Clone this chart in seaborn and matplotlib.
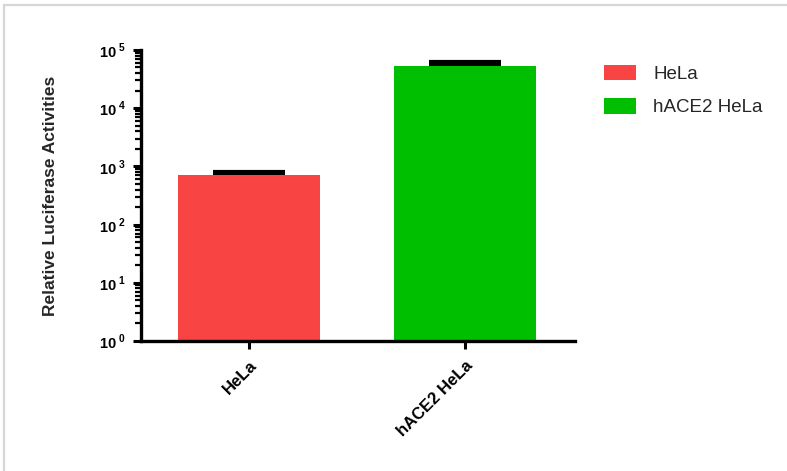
import matplotlib
matplotlib.use("Agg")
import matplotlib.pyplot as plt
from matplotlib.patches import Rectangle, Patch
from matplotlib.ticker import FixedLocator, NullFormatter
import numpy as np
import pandas as pd
import seaborn as sns

# Luciferase readout per cell line (mean and SD)
cell_lines = ["HeLa", "hACE2 HeLa"]
mean_activity = [720, 54000]
sd_activity = [80, 7000]
bar_colors = ["#F94444", "#00BF00"]
y_exponents = [0, 1, 2, 3, 4, 5]

sns.set_theme(style="ticks")
plt.rcParams["font.family"] = ["Liberation Sans", "DejaVu Sans"]
plt.rcParams["mathtext.fontset"] = "custom"
plt.rcParams["mathtext.rm"] = "Liberation Sans"
plt.rcParams["mathtext.bf"] = "Liberation Sans:bold"
plt.rcParams["ytick.minor.visible"] = True

df = pd.DataFrame({"cell": cell_lines, "activity": mean_activity})

fig = plt.figure(figsize=(7.87, 4.71), dpi=100)
ax = fig.add_axes([0.179, 0.276, 0.552, 0.618])
ax.set_yscale("log")

sns.barplot(data=df, x="cell", y="activity", hue="cell", palette=bar_colors,
            saturation=1, width=0.66, legend=False, ax=ax, linewidth=0,
            errorbar=None, zorder=2)

# upper-only SD bars
ax.errorbar(np.arange(len(cell_lines)), mean_activity,
            yerr=[np.zeros(len(sd_activity)), sd_activity],
            fmt="none", ecolor="black", elinewidth=2.2, capsize=26, capthick=3,
            zorder=1)

ax.set_yscale("log")
ax.set_ylim(1, 1e5)
ax.set_xlim(-0.5, 1.51)

major = [10.0 ** e for e in y_exponents]
minor = [m * 10.0 ** e for e in y_exponents[:-1] for m in range(2, 10)]
ax.yaxis.set_major_locator(FixedLocator(major))
ax.yaxis.set_minor_locator(FixedLocator(minor))
ax.yaxis.set_minor_formatter(NullFormatter())
ax.set_yticklabels([r"$\mathbf{10}^{\ \mathbf{%d}}$" % e for e in y_exponents],
                   fontsize=10.5)

ax.set_xticks(range(len(cell_lines)))
ax.set_xticklabels(cell_lines, rotation=45, ha="right", rotation_mode="anchor",
                   fontsize=12, fontweight="bold")

ax.tick_params(axis="y", which="major", direction="out", length=5.5, width=2.2,
               left=True, pad=5, colors="black")
ax.tick_params(axis="y", which="minor", direction="out", length=4, width=1.6,
               left=True, colors="black")
ax.tick_params(axis="x", which="major", direction="out", length=6, width=2.2,
               bottom=True, pad=6, colors="black")
ax.tick_params(axis="x", which="minor", bottom=False)

for side in ["top", "right"]:
    ax.spines[side].set_visible(False)
for side in ["left", "bottom"]:
    ax.spines[side].set_linewidth(2.4)
    ax.spines[side].set_color("black")

ax.set_xlabel("")
ax.set_ylabel("Relative Luciferase Activities", fontsize=12.5, fontweight="bold")
ax.yaxis.set_label_coords(-0.19, 0.5)

handles = [Patch(facecolor=c, edgecolor="none") for c in bar_colors]
ax.legend(handles, cell_lines, loc="upper left", bbox_to_anchor=(1.048, 0.975),
          frameon=False, fontsize=13.5, handlelength=1.7, handleheight=0.9,
          handletextpad=0.95, labelspacing=0.8, borderaxespad=0)

# light frame around the panel
fig.patches.append(Rectangle((4 / 787, -0.1), 1.2, 1 - 5 / 471 + 0.1,
                             transform=fig.transFigure, fill=False,
                             edgecolor="#d6d6d6", linewidth=1.6, zorder=0))

fig.savefig("out.png", dpi=100)
